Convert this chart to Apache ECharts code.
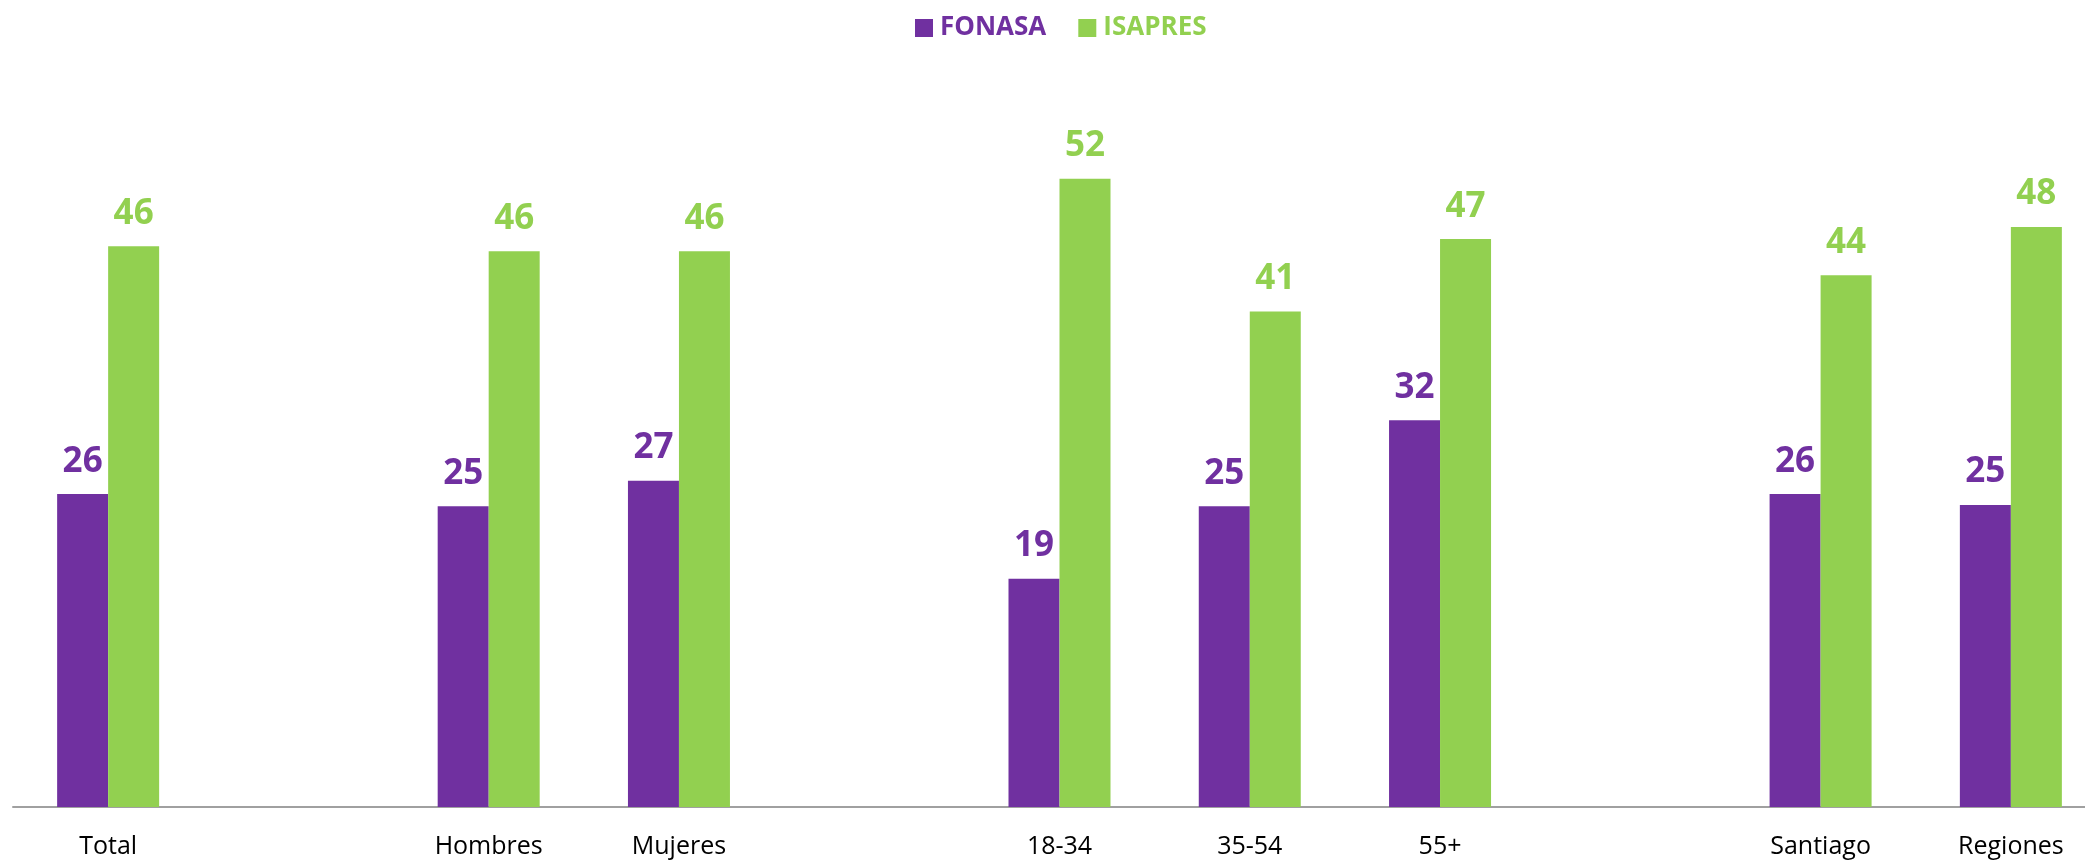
<!DOCTYPE html>
<html>
<head>
    <meta charset="UTF-8">
    <title></title>
    <script type="text/javascript" src="https://cdn.jsdelivr.net/npm/echarts@6/dist/echarts.min.js"></script>
    <style type="text/css">
        html, body {
            margin: 0;
            padding: 0;
            background: #fff;
        }
        #main {
            width: 2085px;
            height: 861px;
        }
    </style>
</head>
<body>
<div id="main"></div>

<script type="text/javascript">
    // datos
    var categories = ['Total', 'Hombres', 'Mujeres', '18-34', '35-54', '55+', 'Santiago', 'Regiones'];
    var fonasa = [25.9, 24.9, 27.0, 18.9, 24.9, 32.0, 25.9, 25.0];
    var isapres = [46.4, 46.0, 46.0, 52.0, 41.0, 47.0, 44.0, 48.0];
    // un espacio vacio antes de cada grupo
    var groupStarts = ['Hombres', '18-34', 'Santiago'];

    var PURPLE = '#7030A0';
    var GREEN = '#92D050';
    var FONT = '"Open Sans", "Liberation Sans", sans-serif';

    var axisCats = [];
    var fonasaData = [];
    var isapresData = [];
    for (var i = 0; i < categories.length; i++) {
        if (groupStarts.indexOf(categories[i]) >= 0) {
            axisCats.push('');
            fonasaData.push('-');
            isapresData.push('-');
        }
        axisCats.push(categories[i]);
        fonasaData.push(fonasa[i]);
        isapresData.push(isapres[i]);
    }

    function barLabel(color) {
        return {
            show: true,
            position: 'top',
            distance: 15,
            color: color,
            fontFamily: FONT,
            fontWeight: 'bold',
            fontSize: 35,
            formatter: function (p) {
                return Math.round(p.value);
            }
        };
    }

    var chart = echarts.init(document.getElementById('main'));
    chart.setOption({
        animation: false,
        backgroundColor: '#fff',
        legend: {
            left: 915,
            top: 15,
            padding: 0,
            itemWidth: 18,
            itemHeight: 18,
            itemGap: 32,
            icon: 'rect',
            textStyle: {
                fontFamily: FONT,
                fontWeight: 'bold',
                fontSize: 26,
                padding: [0, 0, 0, 2]
            },
            data: [
                {name: 'FONASA', textStyle: {color: PURPLE}},
                {name: 'ISAPRES', textStyle: {color: GREEN}}
            ]
        },
        grid: {
            left: 13,
            top: 82,
            width: 2093,
            bottom: 54,
            containLabel: false,
            outerBoundsMode: 'none'
        },
        xAxis: {
            type: 'category',
            data: axisCats,
            axisLine: {lineStyle: {color: '#A0A0A0', width: 2}},
            axisTick: {show: false},
            axisLabel: {
                interval: 0,
                margin: 27,
                color: '#000',
                fontFamily: FONT,
                fontSize: 25
            }
        },
        yAxis: {
            type: 'value',
            min: 0,
            max: 60,
            show: false,
            splitLine: {show: false}
        },
        series: [
            {
                name: 'FONASA',
                type: 'bar',
                barWidth: 51,
                barGap: '0%',
                itemStyle: {color: PURPLE},
                label: barLabel(PURPLE),
                data: fonasaData
            },
            {
                name: 'ISAPRES',
                type: 'bar',
                barWidth: 51,
                barGap: '0%',
                itemStyle: {color: GREEN},
                label: barLabel(GREEN),
                data: isapresData
            }
        ]
    });
</script>

</body>
</html>
